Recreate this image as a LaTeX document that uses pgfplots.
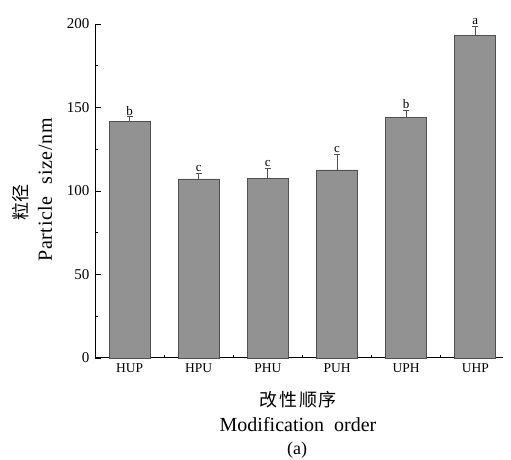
\documentclass[border=0pt]{standalone}
\usepackage{pgfplots}
\pgfplotsset{compat=1.18}
\usepackage{fontspec}
\setmainfont{Liberation Serif}
\newfontfamily\lsfont{Liberation Serif}[LetterSpace=3]
\newfontfamily\cjk{Noto Sans CJK SC}
\definecolor{barfill}{HTML}{929292}
\definecolor{barline}{HTML}{505050}
\begin{document}
\begin{tikzpicture}[x=1pt,y=1pt]
\useasboundingbox (0,0) rectangle (511,460);
\begin{axis}[
  at={(95pt,102pt)}, anchor=south west,
  scale only axis, width=408pt, height=334pt,
  xmin=-0.5, xmax=5.4, ymin=0, ymax=200,
  axis x line*=bottom, axis y line*=left,
  axis line style={line width=1pt, -},
  xtick={0,1,2,3,4,5},
  xticklabels={HUP,HPU,PHU,PUH,UPH,UHP},
  minor xtick={0.5,1.5,2.5,3.5,4.5},
  ytick={0,50,100,150,200},
  minor ytick={25,75,125,175},
  tick align=inside,
  major tick length=6pt, minor tick length=3pt,
  tick style={line width=0.8pt, black},
  xticklabel style={font=\fontsize{13.5}{13.5}\selectfont, yshift=-2pt},
  yticklabel style={font=\fontsize{15}{15}\selectfont, xshift=-2pt},
  /pgf/number format/assume math mode=true,
  clip=false,
]
\addplot[ybar, bar width=41pt, fill=barfill, draw=barline, line width=0.8pt,
  error bars/.cd, y dir=plus, y explicit,
  error bar style={line width=0.8pt, color=barline},
  error mark options={rotate=90, mark size=3pt, line width=0.8pt, color=barline}]
coordinates {
 (0,141.9) +- (0,2.5)
 (1,107.2) +- (0,3.4)
 (2,107.6) +- (0,6.0)
 (3,112.6) +- (0,9.4)
 (4,143.9) +- (0,4.6)
 (5,193.0) +- (0,5.5)
};
\node[anchor=south, font=\fontsize{13}{13}\selectfont, inner sep=1.5pt] at (axis cs:0,144.4) {b};
\node[anchor=south, font=\fontsize{13}{13}\selectfont, inner sep=1.5pt] at (axis cs:1,110.6) {c};
\node[anchor=south, font=\fontsize{13}{13}\selectfont, inner sep=1.5pt] at (axis cs:2,113.6) {c};
\node[anchor=south, font=\fontsize{13}{13}\selectfont, inner sep=1.5pt] at (axis cs:3,122.0) {c};
\node[anchor=south, font=\fontsize{13}{13}\selectfont, inner sep=1.5pt] at (axis cs:4,148.5) {b};
\node[anchor=south, font=\fontsize{13}{13}\selectfont, inner sep=1.5pt] at (axis cs:5,198.5) {a};
\end{axis}
\node[rotate=90, font=\cjk\fontsize{18}{18}\selectfont] at (21,257) {粒径};
\node[rotate=90, font=\lsfont\fontsize{20}{20}\selectfont] at (45,270) {Particle\hspace{0.6em}size/nm};
\node[font=\cjk\fontsize{18}{18}\selectfont] at (298,60) {改\hspace{2pt}性\hspace{2pt}顺\hspace{2pt}序};
\node[font=\fontsize{20}{20}\selectfont] at (298,35) {Modification\hspace{0.5em}order};
\node[font=\fontsize{18}{18}\selectfont] at (297,10) {(a)};
\end{tikzpicture}
\end{document}
